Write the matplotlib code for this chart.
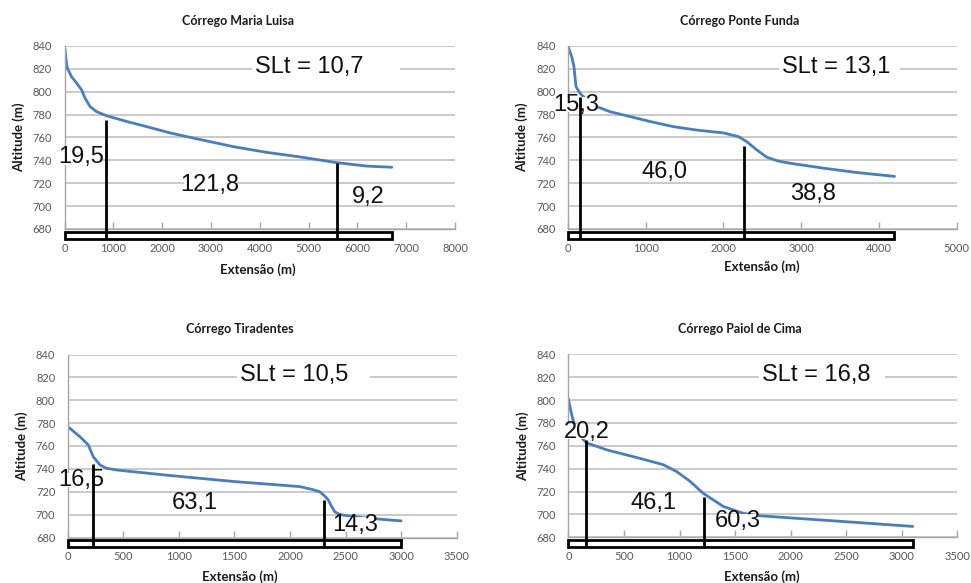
import matplotlib
matplotlib.use("Agg")
import matplotlib.pyplot as plt
from matplotlib.patches import Rectangle

# ---------------- data ----------------
titles = ["Córrego Maria Luisa", "Córrego Ponte Funda",
          "Córrego Tiradentes", "Córrego Paiol de Cima"]

# longitudinal profiles: distance from source (m) and altitude (m)
maria_dist = [0, 10, 31, 58, 147, 250, 352, 420, 523, 660, 864, 1275, 1684,
              2162, 2639, 3459, 4143, 4826, 5578, 6193, 6705]
maria_alt = [838.5, 837, 828, 820.5, 813, 807.5, 801.5, 794.5, 787, 782.5,
             779, 774, 769.5, 764, 759.5, 752, 747, 743, 738, 735, 734]

ponte_dist = [0, 49, 78, 91, 104, 155, 241, 370, 541, 756, 1056, 1356, 1657,
              1999, 2192, 2300, 2428, 2557, 2700, 2857, 3285, 3714, 4200]
ponte_alt = [840, 830.7, 822, 813, 804.5, 798.7, 793, 787, 782.6, 779, 774,
             769.5, 766.5, 764, 760.8, 756.4, 749.2, 742.8, 739.5, 737.5,
             733.2, 729.4, 726]

tira_dist = [0, 110, 184, 229, 290, 350, 440, 889, 1488, 2088, 2200, 2268,
             2310, 2343, 2375, 2403, 2440, 2478, 2688, 3000]
tira_alt = [777, 768, 761, 750.6, 743.4, 740.5, 739, 734.5, 729, 724.5, 722,
            720, 716.5, 713, 707, 702.5, 700.5, 699.5, 697, 694.5]

paiol_dist = [0, 14, 30, 75, 165, 344, 644, 853, 974, 1094, 1213, 1393, 1573,
              1693, 1993, 2593, 3100]
paiol_alt = [801, 794, 787, 771, 762.5, 756.5, 749, 743.5, 737.5, 729, 718.5,
             707, 701, 699, 697, 693, 689.5]

# river length (m)
lengths = [6705, 4200, 3000, 3100]

# knickpoint positions (m) and top altitude of each marker (m)
knick_dist = [[850, 5590], [155, 2266], [224, 2304], [155, 1219]]
knick_top = [[775, 737.5], [795.5, 753], [744, 713], [765, 715]]

# stream-gradient index per segment and total
segment_sl = [["19,5", "121,8", "9,2"], ["15,3", "46,0", "38,8"],
              ["16,5", "63,1", "14,3"], ["20,2", "46,1", "60,3"]]
total_slt = ["SLt = 10,7", "SLt = 13,1", "SLt = 10,5", "SLt = 16,8"]

# axis ranges / ticks
x_max = [8000, 5000, 3500, 3500]
x_step = [1000, 1000, 500, 500]
y_ticks = list(range(680, 841, 20))

profiles = [(maria_dist, maria_alt), (ponte_dist, ponte_alt),
            (tira_dist, tira_alt), (paiol_dist, paiol_alt)]

# ---------------- layout ----------------
W, H = 971, 583
axes_px = [(64.5, 455.0, 46.0, 229.0), (567.9, 956.7, 46.0, 229.0),
           (67.8, 456.7, 354.5, 537.5), (568.4, 957.3, 354.3, 537.3)]
title_x = [0.444, 0.443, 0.443, 0.441]
xlabel_pos = [(0.496, -0.224), (0.498, -0.206), (0.443, -0.214), (0.497, -0.214)]
label_xy = [[(352, 742.6), (2981, 718.6), (6225, 708.4)],
            [(113, 788.5), (1236, 730.2), (3157, 711)],
            [(125, 730.3), (1144, 710), (2583, 691.2)],
            [(165, 772.4), (763, 710.4), (1528, 694.0)]]
slt_x = [3904, 2750, 1549, 1738]
slt_right_pad = [36, 10, 22, 15]

BLUE = "#4a7ebb"
GRID = "#c6c6c6"
TICK = "#595959"
INK = "#111111"
RECT_LO, RECT_HI = 671.3, 677.6

fig = plt.figure(figsize=(W / 100, H / 100), dpi=100)
fig.patch.set_facecolor("white")

axes = []
for i in range(4):
    l, r, t, b = axes_px[i]
    ax = fig.add_axes([l / W, 1 - b / H, (r - l) / W, (b - t) / H])
    axes.append(ax)
    dist, alt = profiles[i]

    ax.set_xlim(0, x_max[i])
    ax.set_ylim(680, 840)
    ax.set_xticks(list(range(0, x_max[i] + 1, x_step[i])))
    ax.set_yticks(y_ticks)
    ax.grid(axis="y", color=GRID, linewidth=1.3, zorder=0)
    ax.set_axisbelow(True)
    for s in ("top", "right"):
        ax.spines[s].set_visible(False)
    for s in ("left", "bottom"):
        ax.spines[s].set_color("#a6a6a6")
        ax.spines[s].set_linewidth(1.0)
    ax.tick_params(axis="x", direction="in", length=5, width=1,
                   color="#a6a6a6", pad=10, labelsize=8, labelcolor=TICK)
    ax.tick_params(axis="y", length=0, pad=9, labelsize=8, labelcolor=TICK)
    for lab in ax.get_xticklabels() + ax.get_yticklabels():
        lab.set_family("Lato")

    # profile
    ax.plot(dist, alt, color=BLUE, linewidth=2.0, zorder=2,
            solid_capstyle="round", solid_joinstyle="round")

    # length bar along the base
    ax.add_patch(Rectangle((0, RECT_LO), lengths[i], RECT_HI - RECT_LO,
                           facecolor="white", edgecolor="black",
                           linewidth=2.0, zorder=5, clip_on=False))
    # knickpoint markers
    ax.vlines(knick_dist[i], RECT_LO, knick_top[i], colors="black",
              linewidth=2.0, zorder=6, clip_on=False)

    # segment SL values
    for txt, (x, y) in zip(segment_sl[i], label_xy[i]):
        ax.text(x, y, txt, ha="center", va="center", fontsize=17,
                family="Liberation Sans", color=INK, zorder=4, clip_on=False,
                bbox=dict(boxstyle="square,pad=-0.15", fc="white", ec="none"))

    # titles / axis labels
    ax.text(title_x[i], 1.137, titles[i], transform=ax.transAxes,
            ha="center", va="center", fontsize=9, fontweight="bold",
            family="Lato", color="#1a1a1a")
    ax.text(xlabel_pos[i][0], xlabel_pos[i][1], "Extensão (m)",
            transform=ax.transAxes, ha="center", va="center", fontsize=9.5,
            fontweight="bold", family="Lato", color="#1a1a1a")
    ax.text(-46 / (r - l), 0.5, "Altitude (m)", transform=ax.transAxes,
            rotation=90, ha="center", va="center", fontsize=9.5,
            fontweight="bold", family="Lato", color="#1a1a1a")

# total SL labels, boxed in white over the 820 m gridline
slt_texts = []
for i, ax in enumerate(axes):
    t = ax.text(slt_x[i], 821.8, total_slt[i], ha="left", va="center",
                fontsize=17, family="Liberation Sans", color=INK, zorder=4)
    slt_texts.append(t)

fig.canvas.draw()
renderer = fig.canvas.get_renderer()
for i, ax in enumerate(axes):
    bb = slt_texts[i].get_window_extent(renderer)
    inv = ax.transAxes.inverted()
    x0, y0 = inv.transform((bb.x0 - 3, bb.y0 - 1))
    x1, y1 = inv.transform((bb.x1 + slt_right_pad[i], bb.y1 + 1))
    ax.add_patch(Rectangle((x0, y0), x1 - x0, y1 - y0, transform=ax.transAxes,
                           facecolor="white", edgecolor="none", zorder=3))

fig.savefig("out.png", dpi=100, facecolor="white")
